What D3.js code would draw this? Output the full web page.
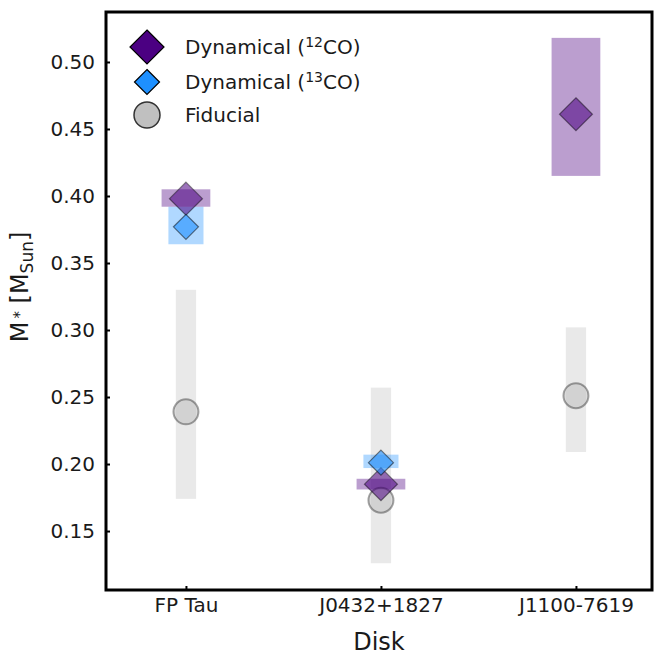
<!DOCTYPE html>
<html>
<head>
<meta charset="utf-8">
<script src="https://cdn.jsdelivr.net/npm/d3@7"></script>
<style>
  body { margin: 0; background: #fff; }
  text { font-family: "DejaVu Sans", sans-serif; fill: #1a1a1a; }
</style>
</head>
<body>
<div id="chart"></div>
<script>
// categories and values (stellar mass in M_Sun)
var disks = ["FP Tau", "J0432+1827", "J1100-7619"];

var co12Mass = [0.398, 0.185, 0.461];
var co12Lo   = [0.392, 0.181, 0.415];
var co12Hi   = [0.405, 0.189, 0.518];

var co13Mass = [0.377, 0.201, null];
var co13Lo   = [0.364, 0.197, null];
var co13Hi   = [0.392, 0.207, null];

var fidMass = [0.239, 0.173, 0.251];
var fidLo   = [0.174, 0.126, 0.209];
var fidHi   = [0.330, 0.257, 0.302];

var yTicks = [0.15, 0.20, 0.25, 0.30, 0.35, 0.40, 0.45, 0.50];

var margin = {top: 12, right: 3, bottom: 66, left: 106},
    width = 655 - margin.left - margin.right,
    height = 656 - margin.top - margin.bottom;

var svg = d3.select("#chart")
  .append("svg")
    .attr("width", 655)
    .attr("height", 656)
  .append("g")
    .attr("transform", "translate(" + margin.left + "," + margin.top + ")");

var x = d3.scaleLinear()
  .domain([-0.41, 2.39])
  .range([0, width]);

var y = d3.scaleLinear()
  .domain([0.1060, 0.5373])
  .range([height, 0]);

var purple = "#4b0082", blue = "#1e90ff", grey = "#c0c0c0";

function diamond(r) {
  return "M0," + (-r) + "L" + r + ",0L0," + r + "L" + (-r) + ",0Z";
}

// build rows from the arrays
function rows(mass, lo, hi) {
  return disks.map(function(d, i) {
    return {i: i, m: mass[i], lo: lo[i], hi: hi[i]};
  }).filter(function(d) { return d.m != null; });
}
var fid = rows(fidMass, fidLo, fidHi),
    c13 = rows(co13Mass, co13Lo, co13Hi),
    c12 = rows(co12Mass, co12Lo, co12Hi);

// uncertainty boxes
function boxes(data, halfW, color, op) {
  svg.append("g").selectAll("rect")
    .data(data)
    .enter().append("rect")
      .attr("x", function(d) { return x(d.i - halfW); })
      .attr("width", function(d) { return x(d.i + halfW) - x(d.i - halfW); })
      .attr("y", function(d) { return y(d.hi); })
      .attr("height", function(d) { return y(d.lo) - y(d.hi); })
      .attr("fill", color)
      .attr("fill-opacity", op);
}
boxes(fid, 0.052, grey, 0.35);
boxes(c13, 0.09, blue, 0.35);
boxes(c12, 0.125, purple, 0.38);

// markers
svg.append("g").selectAll("circle")
  .data(fid)
  .enter().append("circle")
    .attr("cx", function(d) { return x(d.i); })
    .attr("cy", function(d) { return y(d.m); })
    .attr("r", 12.5)
    .attr("fill", grey)
    .attr("fill-opacity", 0.55)
    .attr("stroke", "#000")
    .attr("stroke-opacity", 0.35)
    .attr("stroke-width", 2);

svg.append("g").selectAll("path")
  .data(c12)
  .enter().append("path")
    .attr("transform", function(d) { return "translate(" + x(d.i) + "," + y(d.m) + ")"; })
    .attr("d", diamond(16.5))
    .attr("fill", purple)
    .attr("fill-opacity", 0.55)
    .attr("stroke", "#000")
    .attr("stroke-opacity", 0.45)
    .attr("stroke-width", 1.2);

svg.append("g").selectAll("path")
  .data(c13)
  .enter().append("path")
    .attr("transform", function(d) { return "translate(" + x(d.i) + "," + y(d.m) + ")"; })
    .attr("d", diamond(12.5))
    .attr("fill", blue)
    .attr("fill-opacity", 0.6)
    .attr("stroke", "#000")
    .attr("stroke-opacity", 0.5)
    .attr("stroke-width", 1.2);

// axes
var yAxis = svg.append("g")
  .call(d3.axisLeft(y).tickValues(yTicks).tickFormat(d3.format(".2f")).tickSizeInner(-4).tickSizeOuter(0).tickPadding(11));
var xAxis = svg.append("g")
  .attr("transform", "translate(0," + height + ")")
  .call(d3.axisBottom(x).tickValues([0, 1, 2]).tickFormat(function(d) { return disks[d]; })
        .tickSizeInner(-4).tickSizeOuter(0).tickPadding(8));
[yAxis, xAxis].forEach(function(a) {
  a.select(".domain").remove();
  a.selectAll(".tick line").attr("stroke", "#000").attr("stroke-width", 2);
  a.selectAll("text").style("font-size", "20px").attr("fill", "#1a1a1a");
});

// frame
svg.append("rect")
  .attr("width", width)
  .attr("height", height)
  .attr("fill", "none")
  .attr("stroke", "#000")
  .attr("stroke-width", 3);

// axis labels
svg.append("text")
  .attr("x", width / 2)
  .attr("y", height + 60)
  .attr("text-anchor", "middle")
  .style("font-size", "24px")
  .text("Disk");

var yl = svg.append("text")
  .attr("transform", "translate(-78," + (height / 2 - 14) + ") rotate(-90)")
  .attr("text-anchor", "middle")
  .style("font-size", "24px");
yl.append("tspan").text("M");
yl.append("tspan").attr("dx", 3).attr("dy", -3).style("font-size", "15px").text("*");
yl.append("tspan").attr("dy", 3).text(" [M");
yl.append("tspan").attr("dy", 5).style("font-size", "17px").text("Sun");
yl.append("tspan").attr("dy", -5).text("]");

// legend
var legend = [
  {label: "Dynamical (", sup: "12", tail: "CO)", shape: "d", r: 17, color: purple, y: 35},
  {label: "Dynamical (", sup: "13", tail: "CO)", shape: "d", r: 12.5, color: blue, y: 70},
  {label: "Fiducial", sup: "", tail: "", shape: "c", r: 13, color: grey, y: 103}
];
var lg = svg.append("g").selectAll("g")
  .data(legend)
  .enter().append("g")
    .attr("transform", function(d) { return "translate(41," + d.y + ")"; });
lg.filter(function(d) { return d.shape == "d"; }).append("path")
  .attr("d", function(d) { return diamond(d.r); })
  .attr("fill", function(d) { return d.color; })
  .attr("stroke", "#000")
  .attr("stroke-width", 1.2);
lg.filter(function(d) { return d.shape == "c"; }).append("circle")
  .attr("r", function(d) { return d.r; })
  .attr("fill", function(d) { return d.color; })
  .attr("stroke", "#333")
  .attr("stroke-width", 1.5);
var lt = lg.append("text")
  .attr("x", 38)
  .attr("y", 7)
  .style("font-size", "20px");
lt.append("tspan").text(function(d) { return d.label; });
lt.append("tspan").attr("dy", -7).style("font-size", "14px").text(function(d) { return d.sup; });
lt.append("tspan").attr("dy", 7).text(function(d) { return d.tail; });
</script>
</body>
</html>
